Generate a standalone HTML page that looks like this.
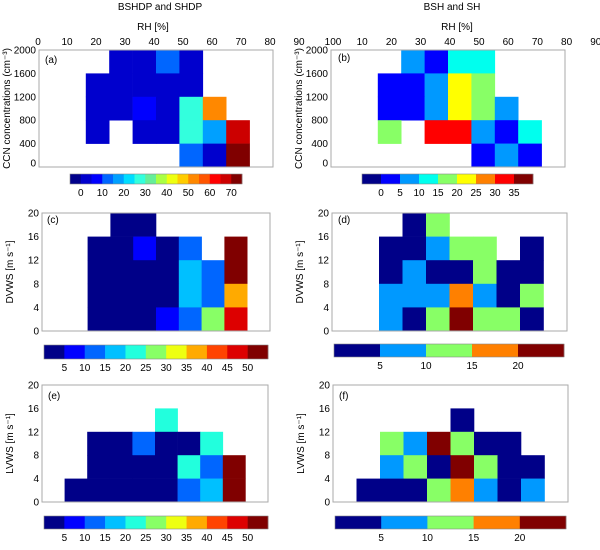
<!DOCTYPE html>
<html><head><meta charset="utf-8"><style>
body{margin:0;background:#fff}
svg{display:block;font-family:"Liberation Sans",Arial,sans-serif;font-size:10px}
</style></head><body>
<svg id="chart" width="600" height="550" viewBox="0 0 600 550" xmlns="http://www.w3.org/2000/svg">
<text x="160" y="10" text-anchor="middle">BSHDP and SHDP</text>
<text x="452" y="10" text-anchor="middle">BSH and SH</text>
<text x="153" y="30" text-anchor="middle">RH [%]</text>
<text x="457" y="30" text-anchor="middle">RH [%]</text>
<g id="g"></g>
</svg>
<script>
// ---- data ----
const colorsA=['#00008b','#0000cd','#0000ff','#0066ff','#00a0ff','#00ddff','#33ffdd','#66ee99','#aaff44','#eeff11','#ffcc00','#ff8800','#ff5500','#ff0000','#cc0000','#800000'];
const colorsB=['#000088','#0000ff','#0099ff','#00ffee','#88ff66','#ffff00','#ff8000','#ff0000','#800000'];
const colorsC=['#000088','#0000ff','#0066ff','#00c0ff','#22ffdd','#88ff66','#eeff11','#ffaa00','#ff4400','#dd0000','#800000'];
const colorsD=['#000088','#0099ff','#88ff66','#ff8000','#800000'];
const rhTicks=['0','10','20','30','40','50','60','70','80','90'];
const rhTicksB=['100','10','20','30','40','50','60','70','80','90'];
const ccnTicks=['2000','1600','1200','800','400','0'];
const wsTicks=['20','16','12','8','4','0'];
const cbLabelsA=['0','10','20','30','40','50','60','70'];
const cbLabelsB=['0','5','10','15','20','25','30','35'];
const cbLabelsC=['5','10','15','20','25','30','35','40','45','50'];
const cbLabelsD=['5','10','15','20'];
const n=null;
const gridA=[[n,n,n,3,3,12,3,n,n,n],[n,n,3,3,3,3,3,n,n,n],[n,n,3,3,7,3,27,52,n,n],[n,n,3,n,3,3,27,17,67,n],[n,n,n,n,n,n,12,3,72,n]];
const gridB=[[n,n,n,7,3,12,12,n,n,n],[n,n,3,3,7,22,17,n,n,n],[n,n,3,3,7,22,17,7,n,n],[n,n,17,n,32,32,7,3,12,n],[n,n,n,n,n,n,3,7,3,n]];
const gridC=[[n,n,n,2,2,n,n,n,n,n],[n,n,2,2,7,2,12,n,52,n],[n,n,2,2,2,2,17,12,52,n],[n,n,2,2,2,2,17,12,37,n],[n,n,2,2,2,7,12,27,47,n]];
const gridD=[[n,n,n,2,12,n,n,n,n,n],[n,n,2,2,7,12,12,n,2,n],[n,n,2,7,2,2,12,2,2,n],[n,n,7,7,7,17,7,2,12,n],[n,n,7,2,12,22,12,12,2,n]];
const gridE=[[n,n,n,n,n,n,n,n,n,n],[n,n,n,n,n,22,n,n,n,n],[n,n,2,2,12,2,2,22,n,n],[n,n,2,2,2,2,22,12,52,n],[n,2,2,2,2,2,12,17,52,n]];
const gridF=[[n,n,n,n,n,n,n,n,n,n],[n,n,n,n,n,2,n,n,n,n],[n,n,12,7,22,12,2,2,n,n],[n,n,7,12,2,22,12,2,2,n],[n,2,2,2,12,17,7,2,7,n]];

const NS='http://www.w3.org/2000/svg';
const root=document.getElementById('g');
function mk(tag,attrs,parent){const e=document.createElementNS(NS,tag);for(const k in attrs)e.setAttribute(k,attrs[k]);(parent||root).appendChild(e);return e;}
function txt(x,y,s,anchor,parent){const t=mk('text',{x:x,y:y,'text-anchor':anchor||'middle'},parent);t.textContent=s;return t;}

function panel(id,grid,colors,offset,box,yTicks,yTitle,cb,cbLabels,cbLabelAtBoundary,topTicks,topX){
  const g=mk('g',{});
  
  
  const cw=(box.x1-box.x0)/10, rh=(box.y1-box.y0)/5;
  const xs=c=>box.x0+c*cw, ys=r=>box.y0+r*rh;
  grid.forEach((row,r)=>row.forEach((v,c)=>{
    if(v===null)return;
    let i=Math.floor(v/5)+offset;i=Math.max(0,Math.min(colors.length-1,i));
    const rc=mk('rect',{x:xs(c),y:ys(r),width:cw+0.3,height:rh+0.3,fill:colors[i]},g);
    
    
  }));
  const fr=mk('rect',{x:box.x0,y:box.y0,width:box.x1-box.x0,height:box.y1-box.y0,fill:'none',stroke:'#aaa','stroke-width':1},g);
  
  
  yTicks.forEach((s,k)=>{
    let y=box.y0+k*(box.y1-box.y0)/(yTicks.length-1)+3.5;
    if(yTitle.startsWith('CCN')&&k===yTicks.length-1)y-=4;
    const t=txt(box.x0-3,y,s,'end',g);
    
    
  });
  const cy=(box.y0+box.y1)/2;
  const yt=mk('text',{x:box.x0-29,y:cy,'text-anchor':'middle',transform:'rotate(-90 '+(box.x0-29)+' '+cy+')'},g);
  yt.textContent=yTitle;
  
  
  if(topTicks){topTicks.forEach((s,k)=>{
    const t=txt(topX[0]+k*topX[1],45,s,'middle',g);
    
    
  });}
  const sw=(cb.x1-cb.x0)/colors.length;
  colors.forEach((c,k)=>{
    const s=mk('rect',{x:cb.x0+k*sw,y:cb.y0,width:sw+0.3,height:cb.y1-cb.y0,fill:c},g);
    
    
  });
  const cbf=mk('rect',{x:cb.x0,y:cb.y0,width:cb.x1-cb.x0,height:cb.y1-cb.y0,fill:'none',stroke:'#888','stroke-width':0.6},g);
  
  
  const step=cbLabelAtBoundary;
  cbLabels.forEach((s,k)=>{
    const t=txt(cb.x0+sw*(1+k*step),cb.y1+12,s,'middle',g);
    
    
  });
}
panel('a',gridA,colorsA,1,{x0:39,x1:273,y0:50,y1:167},ccnTicks,'CCN concentrations (cm⁻³)',{x0:70,x1:242,y0:174,y1:184},cbLabelsA,2,rhTicks,[38,29]);
panel('b',gridB,colorsB,1,{x0:331,x1:565,y0:50,y1:167},ccnTicks,'CCN concentrations (cm⁻³)',{x0:362,x1:533,y0:174,y1:184},cbLabelsB,1,rhTicksB,[333,29.2]);
panel('c',gridC,colorsC,0,{x0:42,x1:270,y0:213,y1:331},wsTicks,'DVWS [m s⁻¹]',{x0:44,x1:268,y0:345,y1:359},cbLabelsC,1,null,null);
panel('d',gridD,colorsD,0,{x0:332,x1:567,y0:213,y1:331},wsTicks,'DVWS [m s⁻¹]',{x0:334,x1:564,y0:344,y1:357},cbLabelsD,1,null,null);
panel('e',gridE,colorsC,0,{x0:42,x1:268,y0:385,y1:502},wsTicks,'LVWS [m s⁻¹]',{x0:44,x1:268,y0:516,y1:529},cbLabelsC,1,null,null);
panel('f',gridF,colorsD,0,{x0:333,x1:568,y0:385,y1:502},wsTicks,'LVWS [m s⁻¹]',{x0:335,x1:566,y0:516,y1:529},cbLabelsD,1,null,null);
// panel letters
[['(a)',45,63],['(b)',338,61],['(c)',47,223],['(d)',338,223],['(e)',48,399],['(f)',339,399]].forEach(p=>{
  const t=txt(p[1],p[2],p[0],'start');
  
  
});
</script>
</body></html>
